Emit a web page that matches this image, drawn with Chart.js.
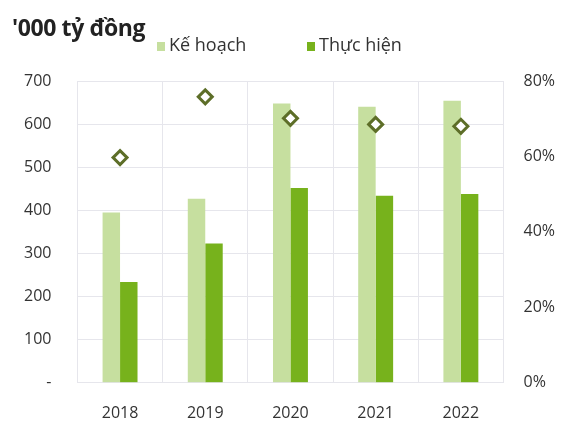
<!DOCTYPE html>
<html>
<head>
<meta charset="utf-8">
<script src="https://cdn.jsdelivr.net/npm/chart.js@4"></script>
<style>
  body { margin: 0; background: #fff; }
  #wrap { position: relative; width: 575px; height: 424px; font-family: "Open Sans", sans-serif; color: #333; }
  #title { position: absolute; left: 12px; top: 11px; font-size: 23px; font-weight: bold; color: #222; letter-spacing: -0.4px; }
  .legend { position: absolute; top: 32px; font-size: 18px; color: #333; }
  .legend i { display: inline-block; width: 8px; height: 9px; margin-right: 4px; vertical-align: 0px; }
  #chart { position: absolute; left: 0; top: 0; }
</style>
</head>
<body>
<div id="wrap">
  <canvas id="chart" width="575" height="424"></canvas>
  <div id="title">'000 tỷ đồng</div>
  <div class="legend" style="left:157px"><i style="background:#c6df9f"></i>Kế hoạch</div>
  <div class="legend" style="left:307px"><i style="background:#77b21c"></i>Thực hiện</div>
</div>
<script>
var years = ['2018', '2019', '2020', '2021', '2022'];
var keHoach = [395, 427, 648, 640, 654];
var thucHien = [234, 323, 452, 434, 438];
var tyLe = [59.7, 75.8, 70.1, 68.5, 68];
var leftTicks = [0, 100, 200, 300, 400, 500, 600, 700];
var rightTicks = [0, 20, 40, 60, 80];

var tickFont = { family: 'Open Sans', size: 16 };

new Chart(document.getElementById('chart'), {
  data: {
    labels: years,
    datasets: [{
      type: 'line',
      label: 'Tỷ lệ',
      data: tyLe,
      yAxisID: 'y1',
      showLine: false,
      pointStyle: 'rectRot',
      pointRadius: 7,
      pointBackgroundColor: '#ffffff',
      pointBorderColor: '#5d6e28',
      pointBorderWidth: 3,
      order: 0
    }, {
      type: 'bar',
      label: 'Kế hoạch',
      data: keHoach,
      backgroundColor: '#c6df9f',
      categoryPercentage: 0.41,
      barPercentage: 1,
      order: 1
    }, {
      type: 'bar',
      label: 'Thực hiện',
      data: thucHien,
      backgroundColor: '#77b21c',
      categoryPercentage: 0.41,
      barPercentage: 1,
      order: 1
    }]
  },
  options: {
    responsive: false,
    animation: false,
    layout: { padding: { top: 81, left: -2, right: 0, bottom: -20 } },
    plugins: {
      legend: { display: false },
      title: { display: false },
      tooltip: { enabled: false }
    },
    scales: {
      x: {
        offset: true,
        grid: { offset: true, color: '#e6e6ec', drawTicks: false },
        border: { color: '#e6e6ec' },
        ticks: { color: '#333', font: tickFont, padding: 21 }
      },
      y: {
        position: 'left',
        min: 0,
        max: 700,
        afterBuildTicks: function (axis) {
          axis.ticks = leftTicks.map(function (v) { return { value: v }; });
        },
        grid: { color: '#e6e6ec', drawTicks: false },
        border: { color: '#e6e6ec' },
        ticks: {
          color: '#333',
          font: tickFont,
          padding: 26,
          callback: function (v) { return v === 0 ? '-' : v; }
        }
      },
      y1: {
        position: 'right',
        min: 0,
        max: 80,
        afterBuildTicks: function (axis) {
          axis.ticks = rightTicks.map(function (v) { return { value: v }; });
        },
        grid: { drawOnChartArea: false, drawTicks: false },
        border: { color: '#e6e6ec' },
        ticks: {
          color: '#333',
          font: tickFont,
          padding: 20,
          callback: function (v) { return v + '%'; }
        }
      }
    }
  }
});
</script>
</body>
</html>
